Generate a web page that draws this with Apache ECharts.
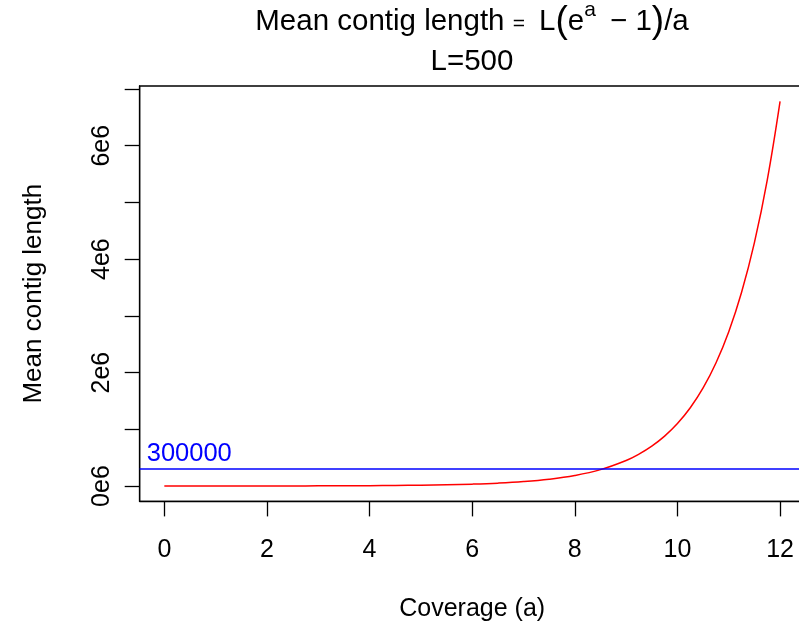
<!DOCTYPE html>
<html>
<head>
<meta charset="utf-8">
<script src="https://cdn.jsdelivr.net/npm/echarts@6/dist/echarts.min.js"></script>
<style>
html,body{margin:0;padding:0;background:#fff;}
#chart{width:799px;height:629px;}
</style>
</head>
<body>
<div id="chart"></div>
<script>
// ---- data ----
const coverage = [0,0.5,1,1.5,2,2.5,3,3.5,4,4.5,5,5.5,6,6.5,7,7.5,8,8.5,9,9.25,9.5,9.75,10,10.25,10.5,10.75,11,11.25,11.5,11.75,12];
const meanContig = [500,649,859,1161,1597,2237,3181,4588,6700,9891,14741,22154,33536,51088,78259,120469,186247,289045,450116,562355,703090,879651,1101273,1379585,1729262,2168791,2721506,3416840,4291946,5393728,6781408];
const threshold = 300000;
const thresholdLabel = '300000';
const xTicks = [0,2,4,6,8,10,12];
const yTicks = [0,1e6,2e6,3e6,4e6,5e6,6e6,7e6];
const yLabelValues = [0,2e6,4e6,6e6];
const yLabelTexts = ['0e6','2e6','4e6','6e6'];
const xName = 'Coverage (a)';
const yName = 'Mean contig length';
const titleSub = 'L=500';

const FONT = '"Liberation Sans", Arial, Helvetica, sans-serif';

// R-style padded ranges (4% each side)
const xMin = -0.48, xMax = 12.48;
const yMin = -270736, yMax = 7052644;

// ---- title pieces (plotmath-like) ----
const pieces = [
  {t:'Mean contig length ', s:29.5, dy:0},
  {t:'=', s:21, dy:-1},
  {t:'\u2009 L', s:29.5, dy:0},
  {t:'(', s:37, dy:3},
  {t:'e', s:29.5, dy:0},
  {t:'a', s:21, dy:-15},
  {t:'\u2009 \u2212 1', s:29.5, dy:0},
  {t:')', s:37, dy:3},
  {t:'/a', s:29.5, dy:0}
];
const mctx = document.createElement('canvas').getContext('2d');
function tw(t, s){ mctx.font = s + 'px ' + FONT; return mctx.measureText(t).width; }
const centerX = 472, base1 = 32, base2 = 72;
let total = 0; pieces.forEach(p => { p.w = tw(p.t, p.s); total += p.w; });
let cx = centerX - total/2;
const graphics = [];
pieces.forEach(p => {
  graphics.push({type:'text', x:cx, y: base1 + p.dy - 0.3465*p.s, silent:true,
    style:{text:p.t, font: p.s + 'px ' + FONT, fill:'#000', align:'left', verticalAlign:'middle'}});
  cx += p.w;
});
graphics.push({type:'text', x:centerX, y: base2 - 0.3465*29.5, silent:true,
  style:{text:titleSub, font:'29.5px ' + FONT, fill:'#000', align:'center', verticalAlign:'middle'}});

const chart = echarts.init(document.getElementById('chart'), null, {renderer:'canvas'});
chart.setOption({
  animation:false,
  backgroundColor:'#fff',
  graphic: graphics,
  grid:{left:139.7, top:86, width:665, height:415.4, show:true, borderColor:'#000', borderWidth:1.3, backgroundColor:'transparent', outerBoundsMode:'none', containLabel:false},
  xAxis:{
    type:'value', min:xMin, max:xMax,
    name:xName, nameLocation:'middle', nameGap:95,
    nameTextStyle:{fontFamily:FONT, fontSize:25, color:'#000'},
    axisLine:{show:true, onZero:false, lineStyle:{color:'#000', width:1.3}},
    splitLine:{show:false},
    axisTick:{show:true, inside:false, length:15, lineStyle:{color:'#000', width:1.3}, customValues:xTicks},
    axisLabel:{show:true, margin:36, fontFamily:FONT, fontSize:25, color:'#000', customValues:xTicks, formatter:v=>String(v)}
  },
  yAxis:{
    type:'value', min:yMin, max:yMax,
    name:yName, nameLocation:'middle', nameGap:93, nameRotate:90,
    nameTextStyle:{fontFamily:FONT, fontSize:26, color:'#000'},
    axisLine:{show:true, onZero:false, lineStyle:{color:'#000', width:1.3}},
    splitLine:{show:false},
    axisTick:{show:true, inside:false, length:15, lineStyle:{color:'#000', width:1.3}, customValues:yTicks},
    axisLabel:{show:true, margin:25, rotate:90, fontFamily:FONT, fontSize:25, color:'#000', customValues:yLabelValues,
      formatter:v=>{ const i = yLabelValues.indexOf(v); return i>=0 ? yLabelTexts[i] : ''; }}
  },
  series:[{
    type:'line',
    data: coverage.map((x,i)=>[x, meanContig[i]]),
    showSymbol:false, symbol:'none',
    smooth:0.4,
    lineStyle:{color:'#FF0000', width:1.5},
    clip:true,
    markLine:{
      silent:true, symbol:'none', animation:false,
      lineStyle:{color:'#0000FF', width:1.5, type:'solid'},
      label:{show:true, position:'insideStartTop', formatter:thresholdLabel, color:'#0000FF', fontFamily:FONT, fontSize:25.5, distance:[7,2]},
      data:[{yAxis:threshold}]
    }
  }]
});
</script>
</body>
</html>
